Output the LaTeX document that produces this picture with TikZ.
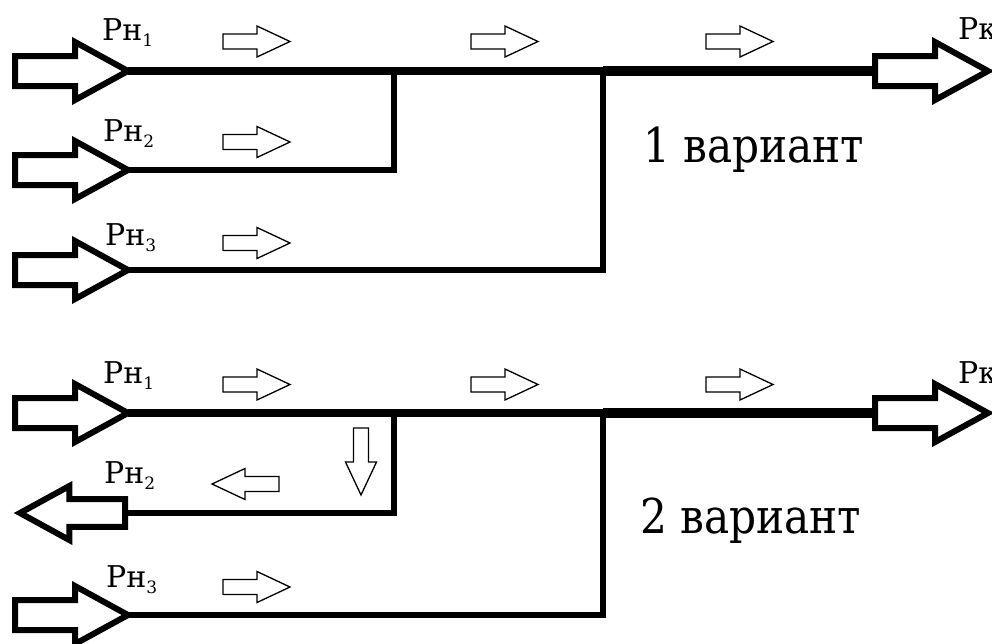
\documentclass[tikz,border=0pt]{standalone}
\usepackage{fontspec}
\newfontfamily\tmsfont{DejaVu Serif}
\begin{document}
\begin{tikzpicture}[x=1pt,y=-1pt,
  trunk/.style={line width=7.5pt},
  heavy/.style={line width=10pt},
  branch/.style={line width=6pt},
  plabel/.style={anchor=base west,inner sep=0pt,font=\tmsfont\fontsize{30}{36}\selectfont},
  vlabel/.style={anchor=base west,inner sep=0pt,font=\tmsfont\fontsize{48}{54}\selectfont},
  bigarrow/.pic={\draw[line width=6pt,miter limit=10,fill=white]
      (0,0) -- (-53,29) -- (-53,15) -- (-113,15) -- (-113,-15) -- (-53,-15) -- (-53,-29) -- cycle;},
  flowarrow/.pic={\draw[line width=1.3pt,fill=white]
      (0,0) -- (-33,15.5) -- (-33,7.5) -- (-67,7.5) -- (-67,-7.5) -- (-33,-7.5) -- (-33,-15.5) -- cycle;}
]
\useasboundingbox (0,0) rectangle (992,643);
\clip (0,0) rectangle (992,643);
\newcommand{\sbs}[1]{\raisebox{-6pt}{\fontsize{17}{17}\selectfont #1}}
\newcommand{\narrow}[1]{\scalebox{0.88}[1]{#1}}

% ---------- variant 1 ----------
\coordinate (a1) at (128,71);
\coordinate (a2) at (128,170);
\coordinate (a3) at (128,270);
\coordinate (j1) at (394,71);
\coordinate (j2) at (603,71);
\coordinate (k1) at (394,170);
\coordinate (k2) at (603,270);
\coordinate (o1) at (875,71);

\draw[heavy] (j2) -- (o1);
\draw[trunk] (a1) -- (j2);
\draw[branch,line join=miter] (a2) -- (k1) -- ([yshift=-3pt]j1);
\draw[branch,line join=miter] (a3) -- (k2) -- ([yshift=-3pt]j2);

\pic at (a1) {bigarrow};
\pic at (a2) {bigarrow};
\pic at (a3) {bigarrow};
\pic at (988,71) {bigarrow};

\pic at (290,41.5) {flowarrow};
\pic at (538,41.5) {flowarrow};
\pic at (773,41.5) {flowarrow};
\pic at (290,142) {flowarrow};
\pic at (290,243) {flowarrow};

\node[plabel] (p11) at (102,40) {Рн\sbs{1}};
\node[plabel] (p12) at (103,141) {Рн\sbs{2}};
\node[plabel] (p13) at (105,245) {Рн\sbs{3}};
\node[plabel] (pk1) at (958,39) {Рк};
\node[vlabel] (v1) at (643,162) {\narrow{1 вариант}};

% ---------- variant 2 ----------
\coordinate (b1) at (128,413);
\coordinate (b2) at (125,513);
\coordinate (b3) at (128,615);
\coordinate (m1) at (394,413);
\coordinate (m2) at (603,413);
\coordinate (n1) at (394,513);
\coordinate (n2) at (603,615);
\coordinate (o2) at (875,413);

\draw[heavy] (m2) -- (o2);
\draw[trunk] (b1) -- (m2);
\draw[branch,line join=miter] (b2) -- (n1) -- ([yshift=-3pt]m1);
\draw[branch,line join=miter] (b3) -- (n2) -- ([yshift=-3pt]m2);

\pic at (b1) {bigarrow};
\pic[rotate=180,scale=0.93] at (20,513) {bigarrow};
\pic at (b3) {bigarrow};
\pic at (988,413) {bigarrow};

\pic at (290,384.5) {flowarrow};
\pic at (538,384.5) {flowarrow};
\pic at (773,384.5) {flowarrow};
\pic[rotate=180] at (212,484) {flowarrow};
\pic[rotate=-90] at (361,495) {flowarrow};
\pic at (290,587) {flowarrow};

\node[plabel] (p21) at (103,383) {Рн\sbs{1}};
\node[plabel] (p22) at (104,483) {Рн\sbs{2}};
\node[plabel] (p23) at (106,587) {Рн\sbs{3}};
\node[plabel] (pk2) at (958,383) {Рк};
\node[vlabel] (v2) at (640,533) {\narrow{2 вариант}};
\end{tikzpicture}
\end{document}
